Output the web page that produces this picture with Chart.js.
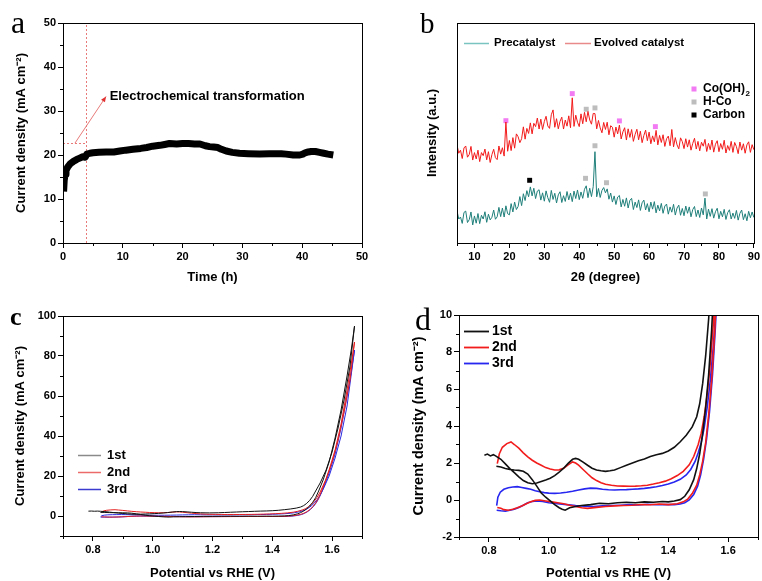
<!doctype html>
<html lang="en">
<head>
<meta charset="UTF-8" />
<title>Catalyst stability, XRD and cyclic voltammetry</title>
<style>
    body { margin: 0; background: #fff; }
    .wrap { position: relative; width: 762px; height: 581px; overflow: hidden; }
    canvas { position: absolute; }
    .tag { position: absolute; font-family: 'Liberation Serif', 'Times New Roman', serif; line-height: 1; color: #000; }
</style>
</head>
<body>
<div class="wrap">
    <canvas id="chartA" width="381" height="290" style="left:0;top:0"></canvas>
    <canvas id="chartB" width="381" height="290" style="left:381px;top:0"></canvas>
    <canvas id="chartC" width="381" height="291" style="left:0;top:290px"></canvas>
    <canvas id="chartD" width="381" height="291" style="left:381px;top:290px"></canvas>
    <div class="tag" style="left:11px;top:6px;font-size:32px">a</div>
    <div class="tag" style="left:420px;top:9px;font-size:29px">b</div>
    <div class="tag" style="left:10px;top:304px;font-size:26px;font-weight:bold">c</div>
    <div class="tag" style="left:415px;top:303px;font-size:32px">d</div>
</div>

<script src="https://cdn.jsdelivr.net/npm/chart.js"></script>
<script>
// (a) current density during the long run
const timeH = [0.1, 0.2, 0.35, 0.5, 0.8, 1.2, 1.7, 2.3, 2.8, 3.3, 3.7, 4.0, 4.5, 5.0, 6.0, 7.2, 8.5, 9.5, 10.5, 11.7,
    13, 14, 15, 16.2, 17, 17.8, 19, 20, 21, 22, 22.9, 23.8, 24.5, 25.2, 25.9, 26.5, 27.3, 28.3, 29.5, 31,
    32.9, 34.5, 35.7, 36.5, 37.3, 38.5, 39.6, 40.1, 40.5, 41, 41.5, 42.2, 42.9, 43.6, 44.3, 45.2];
const currentA = [11.7, 14.2, 15.6, 16.5, 17.3, 18.0, 18.5, 19.0, 19.3, 19.6, 19.5, 20.2, 20.4, 20.5, 20.6, 20.7, 20.7, 20.9, 21.1, 21.3,
    21.5, 21.7, 22.0, 22.2, 22.4, 22.6, 22.5, 22.6, 22.6, 22.5, 22.5, 22.1, 21.9, 21.8, 21.7, 21.3, 20.9, 20.6, 20.4, 20.3,
    20.2, 20.3, 20.3, 20.3, 20.2, 20.0, 20.0, 20.2, 20.5, 20.7, 20.8, 20.8, 20.6, 20.4, 20.2, 20.0];
const transformTime = 3.8;
const transformLevel = 22.7;
const arrowStart = [2.0, 22.7];
const arrowEnd = [7.2, 33.3];

// (b) XRD scans, 5-90 deg in 0.5 deg steps
const precatalyst = [
    14.6, 10.9, 11.8, 8.9, 13.9, 14.5, 9.3, 10.6, 14.1, 8.2,
    12.3, 9.0, 13.4, 8.8, 12.6, 10.9, 14.2, 9.4, 13.1, 10.5,
    11.7, 15.0, 10.8, 11.9, 16.2, 12.0, 15.9, 11.8, 16.9, 13.3,
    12.8, 17.9, 14.1, 18.6, 15.2, 16.6, 21.1, 17.0, 22.4, 19.3,
    23.8, 21.0, 25.5, 21.4, 24.9, 20.2, 23.6, 24.2, 19.5, 22.8,
    19.0, 23.7, 20.6, 18.5, 23.9, 19.8, 22.6, 18.2, 21.9, 23.3,
    18.4, 21.5, 18.9, 23.4, 19.6, 22.7, 18.8, 23.6, 20.2, 24.1,
    19.7, 23.2, 20.3, 24.4, 26.0, 20.6, 24.9, 21.1, 25.6, 41.5,
    21.0, 24.8, 20.7, 23.9, 25.2, 22.8, 24.6, 19.9, 22.7, 18.6,
    21.4, 17.5, 20.9, 21.6, 16.4, 19.8, 16.7, 20.5, 15.9, 19.4,
    20.3, 15.2, 18.6, 16.1, 19.6, 14.8, 18.3, 19.5, 15.0, 17.9,
    14.2, 18.6, 15.4, 18.8, 13.7, 17.2, 14.6, 18.0, 13.5, 16.8,
    17.7, 13.1, 16.4, 14.0, 17.6, 12.7, 15.9, 17.2, 12.6, 15.7,
    12.4, 16.8, 13.5, 16.4, 11.9, 15.2, 16.6, 12.0, 15.0, 11.6,
    15.9, 12.8, 20.4, 10.9, 15.4, 12.1, 15.6, 11.3, 14.2, 15.8,
    11.0, 14.4, 11.9, 15.3, 10.7, 13.8, 15.1, 10.9, 13.6, 11.2,
    14.8, 10.4, 13.5, 15.0, 10.6, 13.3, 10.1, 14.4, 11.5, 14.1,
    11.6];
const evolved = [
    44.6, 40.8, 42.2, 38.4, 43.2, 44.1, 39.0, 40.2, 43.9, 37.7,
    41.1, 38.2, 42.2, 37.0, 41.1, 39.7, 42.7, 37.8, 41.5, 36.6,
    40.2, 42.6, 38.8, 37.9, 44.1, 40.4, 43.3, 39.5, 55, 41.7,
    46.6, 42.0, 47.9, 43.1, 49.6, 48.3, 45.6, 47.4, 52.8, 47.2,
    52.1, 49.8, 54.6, 49.6, 54.4, 52.9, 56.8, 51.8, 56.3, 51.6,
    55.2, 57.6, 53.2, 52.1, 58.3, 60.5, 52.6, 56.5, 51.9, 55.3,
    57.2, 51.8, 55.9, 53.1, 57.8, 52.4, 66, 53.0, 58.1, 54.9,
    52.9, 58.7, 54.2, 59.4, 55.1, 59.8, 55.9, 54.0, 58.9, 58.8,
    51.9, 55.7, 52.3, 50.1, 54.8, 51.6, 54.9, 49.2, 53.3, 52.6,
    48.1, 52.7, 49.6, 53.6, 47.3, 50.5, 52.4, 46.8, 51.9, 48.0,
    51.6, 46.2, 49.4, 51.7, 46.9, 50.8, 45.6, 48.9, 51.3, 46.5,
    50.4, 45.1, 48.7, 46.0, 51.2, 44.6, 48.9, 45.7, 49.2, 43.9,
    47.4, 48.6, 44.2, 51.6, 43.7, 47.9, 44.6, 42.8, 47.8, 46.1,
    42.9, 47.4, 43.6, 46.9, 42.2, 45.3, 47.6, 42.7, 46.2, 41.9,
    45.8, 44.0, 47.1, 41.6, 45.3, 42.4, 46.8, 41.3, 44.9, 46.5,
    41.5, 45.2, 42.6, 46.7, 40.9, 44.3, 42.1, 46.2, 41.2, 45.7,
    43.8, 40.6, 45.9, 42.2, 45.1, 40.8, 44.6, 46.0, 41.2, 44.7,
    42.4];
const twoTheta = precatalyst.map((_, i) => 5 + i * 0.5);

// phase markers (position, marker height)
const coOH2Peaks = [19, 38, 51.5, 61.8];
const coOH2Marks = [55.6, 67.9, 55.5, 52.9];
const hcoPeaks = [42, 44.5, 44.5, 41.8, 47.8, 76.1];
const hcoMarks = [60.8, 61.4, 44.2, 29.4, 27.4, 22.3];
const carbonPeaks = [25.8];
const carbonMarks = [28.5];

// (c, d) three CV cycles: potential (V vs RHE) and current density
const cycle1V = [0.785, 0.795, 0.805, 0.815, 0.825, 0.84, 0.855, 0.87, 0.885, 0.9, 0.915, 0.93,
    0.945, 0.96, 0.975, 0.99, 1.005, 1.02, 1.035, 1.05, 1.065, 1.08,
    1.09, 1.1, 1.115, 1.13, 1.145, 1.16, 1.175, 1.19, 1.205, 1.22,
    1.24, 1.26, 1.28, 1.3, 1.32, 1.34, 1.36, 1.38, 1.4, 1.42, 1.44, 1.46, 1.48,
    1.495, 1.505, 1.515, 1.525, 1.535, 1.545, 1.56, 1.58, 1.6, 1.62, 1.64, 1.66, 1.675,
    1.665, 1.65, 1.63, 1.61, 1.59, 1.57, 1.555, 1.545, 1.535, 1.525,
    1.515, 1.505, 1.495, 1.485, 1.47, 1.455, 1.44, 1.42, 1.4, 1.38,
    1.35, 1.32, 1.29, 1.26, 1.23, 1.2, 1.17, 1.14, 1.11, 1.09,
    1.07, 1.055, 1.045, 1.035, 1.02, 1.005, 0.99, 0.975, 0.96, 0.945,
    0.93, 0.915, 0.9, 0.885, 0.87, 0.855, 0.84, 0.825];
const cycle1J = [2.42, 2.48, 2.38, 2.45, 2.36, 2.2, 1.95, 1.7, 1.48, 1.25, 1.05, 0.93,
    0.88, 0.92, 1.0, 1.08, 1.18, 1.32, 1.5, 1.72, 1.98, 2.2,
    2.25, 2.2, 2.05, 1.88, 1.72, 1.62, 1.58, 1.55, 1.58, 1.62,
    1.75, 1.88, 2.0, 2.12, 2.22, 2.35, 2.45, 2.52, 2.65, 2.85, 3.15, 3.5, 3.95,
    4.5, 5.2, 6.3, 7.8, 9.8, 12.5, 16.5, 23, 32, 44, 58, 75, 95,
    84, 70, 53, 39, 27, 18, 12.5, 9.2, 6.8, 5.0,
    3.6, 2.5, 1.7, 1.1, 0.55, 0.2, 0.02, -0.05, -0.1, -0.08,
    -0.12, -0.1, -0.15, -0.12, -0.15, -0.2, -0.18, -0.25, -0.3, -0.35,
    -0.42, -0.55, -0.5, -0.42, -0.25, -0.05, 0.15, 0.38, 0.75, 1.1,
    1.4, 1.55, 1.6, 1.62, 1.65, 1.7, 1.78, 1.82];
const cycle2V = [0.828, 0.835, 0.845, 0.86, 0.874, 0.885, 0.9, 0.915, 0.93, 0.945,
    0.96, 0.975, 0.99, 1.005, 1.02, 1.035, 1.05, 1.065, 1.08, 1.09,
    1.1, 1.115, 1.13, 1.145, 1.16, 1.175, 1.19, 1.21, 1.23, 1.25,
    1.27, 1.29, 1.31, 1.33, 1.35, 1.37, 1.39, 1.41, 1.43, 1.45,
    1.47, 1.485, 1.5, 1.51, 1.52, 1.53, 1.54, 1.55, 1.56, 1.58,
    1.6, 1.62, 1.64, 1.66, 1.675,
    1.665, 1.65, 1.63, 1.61, 1.59, 1.575, 1.565, 1.555, 1.545, 1.535,
    1.525, 1.515, 1.505, 1.495, 1.48, 1.465, 1.45, 1.43, 1.4, 1.37,
    1.34, 1.31, 1.28, 1.25, 1.22, 1.19, 1.16, 1.13, 1.11, 1.09,
    1.07, 1.05, 1.03, 1.01, 0.99, 0.97, 0.955, 0.94, 0.925, 0.91,
    0.895, 0.88, 0.865, 0.85, 0.84, 0.828];
const cycle2J = [1.97, 2.5, 2.85, 3.05, 3.14, 3.0, 2.8, 2.55, 2.33, 2.15,
    2.0, 1.88, 1.75, 1.68, 1.62, 1.63, 1.72, 1.9, 2.06, 2.0,
    1.88, 1.65, 1.42, 1.2, 1.05, 0.93, 0.85, 0.8, 0.76, 0.75,
    0.74, 0.75, 0.77, 0.8, 0.86, 0.93, 1.02, 1.15, 1.32, 1.55,
    1.9, 2.35, 3.0, 3.6, 4.5, 5.7, 7.3, 9.4, 12, 18.5,
    27, 38, 52, 68, 87,
    77, 63, 46, 33, 23, 16.5, 12.5, 9.0, 6.5, 4.6,
    3.1, 2.1, 1.35, 0.8, 0.35, 0.05, -0.1, -0.2, -0.25, -0.22,
    -0.26, -0.24, -0.28, -0.3, -0.32, -0.35, -0.4, -0.45, -0.42, -0.35,
    -0.28, -0.2, -0.15, -0.1, -0.05, 0.0, -0.02, -0.1, -0.2, -0.32,
    -0.42, -0.5, -0.55, -0.52, -0.45, -0.4];
const cycle3V = [0.826, 0.83, 0.838, 0.85, 0.865, 0.88, 0.895, 0.91, 0.925, 0.94,
    0.955, 0.97, 0.985, 1.0, 1.02, 1.04, 1.06, 1.08, 1.1, 1.12,
    1.14, 1.16, 1.18, 1.2, 1.22, 1.24, 1.26, 1.28, 1.3, 1.32,
    1.34, 1.36, 1.38, 1.4, 1.42, 1.44, 1.46, 1.475, 1.49, 1.5,
    1.51, 1.52, 1.53, 1.54, 1.55, 1.56, 1.57, 1.59, 1.61, 1.63,
    1.65, 1.675,
    1.665, 1.65, 1.63, 1.61, 1.59, 1.575, 1.565, 1.557, 1.548, 1.538,
    1.528, 1.518, 1.508, 1.498, 1.485, 1.47, 1.455, 1.44, 1.42, 1.39,
    1.36, 1.33, 1.3, 1.27, 1.24, 1.21, 1.18, 1.15, 1.12, 1.09,
    1.06, 1.03, 1.0, 0.98, 0.96, 0.945, 0.93, 0.915, 0.9, 0.885,
    0.87, 0.855, 0.84, 0.826];
const cycle3J = [-0.3, 0.15, 0.42, 0.58, 0.66, 0.7, 0.72, 0.68, 0.63, 0.58,
    0.5, 0.45, 0.4, 0.37, 0.36, 0.38, 0.42, 0.47, 0.54, 0.6,
    0.64, 0.63, 0.58, 0.55, 0.54, 0.55, 0.56, 0.58, 0.6, 0.63,
    0.67, 0.72, 0.78, 0.86, 0.97, 1.12, 1.35, 1.65, 2.1, 2.55,
    3.1, 3.9, 5.0, 6.4, 8.2, 10.5, 13.3, 20, 29, 40,
    55, 83,
    73, 60, 44, 31, 21.5, 15.5, 11.8, 9.2, 6.8, 4.8,
    3.3, 2.2, 1.35, 0.75, 0.3, 0.0, -0.15, -0.22, -0.25, -0.24,
    -0.26, -0.23, -0.27, -0.25, -0.28, -0.3, -0.32, -0.35, -0.33, -0.3,
    -0.25, -0.2, -0.15, -0.08, -0.05, -0.08, -0.15, -0.28, -0.4, -0.5,
    -0.55, -0.6, -0.58, -0.55];
const cycleLabels = ['1st', '2nd', '3rd'];

const SANS = "'Liberation Sans', Arial, sans-serif";
const tickFont = { family: SANS, size: 11, weight: 'bold' };
const titleFont = { family: SANS, size: 13, weight: 'bold' };

const pts = (xs, ys) => xs.map((x, i) => ({ x: x, y: ys[i] }));

// linear axis with outward ticks; only the "major" ticks carry labels
function linAxis(o) {
    const isMajor = v => Math.abs(v / o.major - Math.round(v / o.major)) < 1e-6;
    return {
        type: 'linear', min: o.min, max: o.max,
        border: { display: false },
        grid: {
            drawOnChartArea: false, tickLength: 5, tickWidth: 1,
            tickColor: c => (c.tick && isMajor(c.tick.value)) ? '#000' : 'rgba(0,0,0,0)'
        },
        ticks: {
            stepSize: o.step, autoSkip: false, maxRotation: 0, padding: 2,
            color: '#000', font: o.tickFont || tickFont,
            callback: v => isMajor(v) ? Number(v).toFixed(o.dp || 0) : ''
        },
        title: { display: true, text: o.title, color: '#000', font: o.titleFont || titleFont, padding: o.pad },
        afterFit: s => { if (s.isHorizontal()) s.height = o.size; else s.width = o.size; }
    };
}

// box around the plot and short minor ticks
const framePlugin = {
    id: 'frame',
    afterDraw(chart) {
        const { ctx, chartArea: a } = chart;
        ctx.save();
        ctx.strokeStyle = '#000';
        ctx.lineWidth = 1;
        ctx.beginPath();
        Object.values(chart.scales).forEach(s => {
            if (s.options.grid.display === false) return;
            s.ticks.forEach(t => {
                if (t.label !== '') return;
                const p = Math.round(s.getPixelForValue(t.value)) + 0.5;
                if (s.isHorizontal()) { ctx.moveTo(p, a.bottom); ctx.lineTo(p, a.bottom + 3); }
                else { ctx.moveTo(a.left, p); ctx.lineTo(a.left - 3, p); }
            });
        });
        ctx.stroke();
        ctx.strokeRect(Math.round(a.left) + 0.5, Math.round(a.top) + 0.5,
            Math.round(a.right - a.left), Math.round(a.bottom - a.top));
        ctx.restore();
    }
};

const baseOptions = (padding) => ({
    responsive: false, animation: false, events: [],
    layout: { padding: padding },
    plugins: { legend: { display: false }, tooltip: { enabled: false } }
});

// ---------- (a) ----------
const transformPlugin = {
    id: 'transform',
    beforeDatasetsDraw(chart) {
        const { ctx, scales: { x, y } } = chart;
        ctx.save();
        ctx.strokeStyle = '#e87a7a';
        ctx.lineWidth = 1;
        ctx.setLineDash([2, 2]);
        const vx = Math.round(x.getPixelForValue(transformTime)) + 0.5;
        const hy = Math.round(y.getPixelForValue(transformLevel)) + 0.5;
        ctx.beginPath();
        ctx.moveTo(vx, y.getPixelForValue(0));
        ctx.lineTo(vx, y.getPixelForValue(50));
        ctx.moveTo(x.getPixelForValue(0), hy);
        ctx.lineTo(vx, hy);
        ctx.stroke();
        ctx.setLineDash([]);
        const x0 = x.getPixelForValue(arrowStart[0]), y0 = y.getPixelForValue(arrowStart[1]);
        const x1 = x.getPixelForValue(arrowEnd[0]), y1 = y.getPixelForValue(arrowEnd[1]);
        ctx.beginPath();
        ctx.moveTo(x0, y0);
        ctx.lineTo(x1, y1);
        ctx.stroke();
        const ang = Math.atan2(y1 - y0, x1 - x0);
        ctx.fillStyle = '#e03030';
        ctx.beginPath();
        ctx.moveTo(x1, y1);
        ctx.lineTo(x1 - 6 * Math.cos(ang - 0.4), y1 - 6 * Math.sin(ang - 0.4));
        ctx.lineTo(x1 - 6 * Math.cos(ang + 0.4), y1 - 6 * Math.sin(ang + 0.4));
        ctx.closePath();
        ctx.fill();
        ctx.restore();
    },
    afterDraw(chart) {
        const { ctx, scales: { x, y } } = chart;
        ctx.save();
        ctx.fillStyle = '#000';
        ctx.font = 'bold 13px ' + SANS;
        ctx.textBaseline = 'middle';
        ctx.fillText('Electrochemical transformation', x.getPixelForValue(7.8), y.getPixelForValue(33.4));
        ctx.restore();
    }
};

new Chart(document.getElementById('chartA'), {
    type: 'line',
    data: {
        datasets: [{
            data: pts(timeH, currentA), borderColor: '#000', borderWidth: 7,
            pointRadius: 0, tension: 0, borderJoinStyle: 'round'
        }]
    },
    options: Object.assign(baseOptions({ left: 0, top: 23, right: 19, bottom: 0 }), {
        scales: {
            x: linAxis({ min: 0, max: 50, step: 5, major: 10, title: 'Time (h)', pad: { top: 0, bottom: 5 }, size: 47 }),
            y: linAxis({ min: 0, max: 50, step: 5, major: 10, title: 'Current density (mA cm⁻²)', pad: { top: 14, bottom: 0 }, size: 63 })
        }
    }),
    plugins: [framePlugin, transformPlugin]
});

// ---------- (b) ----------
const xrdLegendPlugin = {
    id: 'xrdLegend',
    afterDraw(chart) {
        const ctx = chart.ctx;
        ctx.save();
        ctx.font = 'bold 11.5px ' + SANS;
        ctx.textBaseline = 'middle';
        ctx.fillStyle = '#000';
        ctx.lineWidth = 1.5;
        ctx.strokeStyle = '#79c4c0';
        ctx.beginPath(); ctx.moveTo(83, 43.5); ctx.lineTo(108, 43.5); ctx.stroke();
        ctx.fillText('Precatalyst', 113, 43);
        ctx.strokeStyle = '#e98a8a';
        ctx.beginPath(); ctx.moveTo(184, 43.5); ctx.lineTo(210, 43.5); ctx.stroke();
        ctx.fillText('Evolved catalyst', 213, 43);

        const rows = [['#f27af2', 89], ['#bdbdbd', 102], ['#000', 115]];
        rows.forEach(r => { ctx.fillStyle = r[0]; ctx.fillRect(310.5, r[1] - 2.5, 5, 5); });
        ctx.fillStyle = '#000';
        ctx.font = 'bold 12px ' + SANS;
        ctx.fillText('Co(OH)', 322, 89);
        const w = ctx.measureText('Co(OH)').width;
        ctx.font = 'bold 8px ' + SANS;
        ctx.fillText('2', 322 + w + 0.5, 94);
        ctx.font = 'bold 12px ' + SANS;
        ctx.fillText('H-Co', 322, 102);
        ctx.fillText('Carbon', 322, 115);
        ctx.restore();
    }
};

const markerSet = (xs, ys, color) => ({
    type: 'scatter', data: pts(xs, ys), showLine: false, pointStyle: 'rect',
    pointRadius: 3.5, backgroundColor: color, borderWidth: 0
});

new Chart(document.getElementById('chartB'), {
    type: 'line',
    data: {
        datasets: [
            { data: pts(twoTheta, evolved), borderColor: '#f21a1a', borderWidth: 1, pointRadius: 0, tension: 0 },
            { data: pts(twoTheta, precatalyst), borderColor: '#1f7f7a', borderWidth: 1, pointRadius: 0, tension: 0 },
            markerSet(coOH2Peaks, coOH2Marks, '#f27af2'),
            markerSet(hcoPeaks, hcoMarks, '#bdbdbd'),
            markerSet(carbonPeaks, carbonMarks, '#000')
        ]
    },
    options: Object.assign(baseOptions({ left: 0, top: 23, right: 7, bottom: 0 }), {
        scales: {
            x: linAxis({ min: 5, max: 90, step: 5, major: 10, title: '2θ (degree)', pad: { top: 0, bottom: 5 }, size: 47 }),
            y: {
                type: 'linear', min: 0, max: 100,
                border: { display: false }, grid: { display: false }, ticks: { display: false },
                title: { display: true, text: 'Intensity (a.u.)', color: '#000', font: titleFont, padding: { top: 44, bottom: 0 } },
                afterFit: s => { s.width = 76; }
            }
        }
    }),
    plugins: [framePlugin, xrdLegendPlugin]
});

// ---------- (c) and (d) ----------
function cvLegend(id, colors, x0, x1, tx, ys, size, lw) {
    return {
        id: id,
        afterDraw(chart) {
            const ctx = chart.ctx;
            ctx.save();
            ctx.font = 'bold ' + size + 'px ' + SANS;
            ctx.textBaseline = 'middle';
            ctx.lineWidth = lw;
            cycleLabels.forEach((lab, i) => {
                ctx.strokeStyle = colors[i];
                ctx.beginPath(); ctx.moveTo(x0, ys[i] + 0.5); ctx.lineTo(x1, ys[i] + 0.5); ctx.stroke();
                ctx.fillStyle = '#000';
                ctx.fillText(lab, tx, ys[i]);
            });
            ctx.restore();
        }
    };
}

function cvDatasets(colors, width) {
    return [
        { data: pts(cycle1V, cycle1J), borderColor: colors[0], borderWidth: width, pointRadius: 0, tension: 0, clip: 0 },
        { data: pts(cycle2V, cycle2J), borderColor: colors[1], borderWidth: width, pointRadius: 0, tension: 0, clip: 0 },
        { data: pts(cycle3V, cycle3J), borderColor: colors[2], borderWidth: width, pointRadius: 0, tension: 0, clip: 0 }
    ];
}

new Chart(document.getElementById('chartC'), {
    type: 'line',
    data: { datasets: cvDatasets(['#111', '#e52020', '#2a2ae0'], 1) },
    options: Object.assign(baseOptions({ left: 0, top: 26, right: 19, bottom: 0 }), {
        scales: {
            x: linAxis({ min: 0.7, max: 1.7, step: 0.1, major: 0.2, dp: 1, title: 'Potential vs RHE (V)', pad: { top: 0, bottom: 0 }, size: 45 }),
            y: linAxis({ min: -10, max: 100, step: 10, major: 20, title: 'Current density (mA cm⁻²)', pad: { top: 13, bottom: 0 }, size: 63 })
        }
    }),
    plugins: [framePlugin, cvLegend('legendC', ['#8a8a8a', '#ec6a6a', '#3b3bd0'], 78, 101, 107, [165, 182, 199], 13, 1.5)]
});

new Chart(document.getElementById('chartD'), {
    type: 'line',
    data: { datasets: cvDatasets(['#111', '#f21c1c', '#2626f0'], 1.6) },
    options: Object.assign(baseOptions({ left: 0, top: 25, right: 4, bottom: 0 }), {
        scales: {
            x: linAxis({ min: 0.7, max: 1.7, step: 0.1, major: 0.2, dp: 1, title: 'Potential vs RHE (V)', pad: { top: 0, bottom: 0 }, size: 44 }),
            y: linAxis({ min: -2, max: 10, step: 1, major: 2, title: 'Current density (mA cm⁻²)', pad: { top: 29, bottom: 0 }, size: 78,
                titleFont: { family: SANS, size: 14.5, weight: 'bold' } })
        }
    }),
    plugins: [framePlugin, cvLegend('legendD', ['#111', '#f21c1c', '#2626f0'], 83, 108, 111, [41, 57, 73], 14, 1.8)]
});
</script>
</body>
</html>
